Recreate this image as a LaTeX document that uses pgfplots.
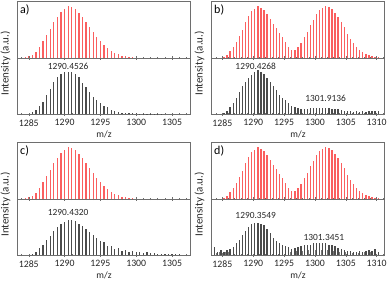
\documentclass[border=0pt]{standalone}
\usepackage{pgfplots}
\pgfplotsset{compat=1.18}
\usepackage{fontspec}
\setmainfont{Carlito}
\definecolor{simred}{RGB}{250,95,95}
\definecolor{expgray}{RGB}{75,75,75}
\definecolor{framec}{RGB}{110,110,110}

\pgfplotstableread{
x y
1284.5 0.012
1285.0 0.03
1285.5 0.06
1286.0 0.12
1286.5 0.21
1287.0 0.32
1287.5 0.44
1288.0 0.56
1288.5 0.69
1289.0 0.80
1289.5 0.89
1290.0 0.95
1290.5 1.00
1291.0 0.98
1291.5 0.94
1292.0 0.87
1292.5 0.79
1293.0 0.69
1293.5 0.60
1294.0 0.50
1294.5 0.41
1295.0 0.33
1295.5 0.26
1296.0 0.20
1296.5 0.14
1297.0 0.10
1297.5 0.068
1298.0 0.045
1298.5 0.03
1299.0 0.02
1299.5 0.013
1300.0 0.008
1300.5 0.005
1301.0 0.003
}\redA

\pgfplotstableread{
x y
1285.25 0.01
1285.75 0.06
1286.25 0.13
1286.75 0.21
1287.25 0.31
1287.75 0.42
1288.25 0.55
1288.75 0.69
1289.25 0.81
1289.75 0.90
1290.25 0.95
1290.75 1.00
1291.25 0.97
1291.75 0.92
1292.25 0.84
1292.75 0.76
1293.25 0.66
1293.75 0.58
1294.25 0.48
1294.75 0.40
1295.25 0.31
1295.75 0.22
1296.25 0.16
1296.75 0.15
1297.25 0.21
1297.75 0.29
1298.25 0.40
1298.75 0.51
1299.25 0.63
1299.75 0.74
1300.25 0.85
1300.75 0.92
1301.25 0.97
1301.75 1.00
1302.25 0.99
1302.75 0.95
1303.25 0.87
1303.75 0.79
1304.25 0.69
1304.75 0.59
1305.25 0.47
1305.75 0.37
1306.25 0.29
1306.75 0.22
1307.25 0.16
1307.75 0.11
1308.25 0.08
1308.75 0.06
1309.25 0.04
1309.75 0.02
1310.25 0.01
}\redB

\pgfplotstableread{
x y
1285.5 0.038
1286.0 0.076
1286.5 0.144
1287.0 0.220
1287.5 0.342
1288.0 0.456
1288.5 0.578
1289.0 0.669
1289.5 0.714
1290.0 0.752
1290.5 0.760
1291.0 0.752
1291.5 0.714
1292.0 0.654
1292.5 0.562
1293.0 0.479
1293.5 0.403
1294.0 0.312
1294.5 0.251
1295.0 0.198
1295.5 0.144
1296.0 0.122
1296.5 0.076
1297.0 0.061
1297.5 0.038
1298.0 0.030
1298.5 0.023
1299.0 0.019
1299.5 0.015
1300.0 0.015
1300.5 0.011
1301.0 0.011
1301.5 0.008
1302.0 0.008
1302.5 0.008
1303.0 0.006
1303.5 0.006
}\blkA

\pgfplotstableread{
x y
1285.25 0.016
1285.75 0.062
1286.25 0.125
1286.75 0.203
1287.25 0.296
1287.75 0.398
1288.25 0.499
1288.75 0.577
1289.25 0.647
1289.75 0.694
1290.25 0.749
1290.75 0.780
1291.25 0.749
1291.75 0.710
1292.25 0.647
1292.75 0.577
1293.25 0.499
1293.75 0.429
1294.25 0.351
1294.75 0.296
1295.25 0.250
1295.75 0.195
1296.25 0.148
1296.75 0.125
1297.25 0.105
1297.75 0.100
1298.25 0.094
1298.75 0.100
1299.25 0.105
1299.75 0.109
1300.25 0.109
1300.75 0.112
1301.25 0.112
1301.75 0.109
1302.25 0.105
1302.75 0.094
1303.25 0.094
1303.75 0.086
1304.25 0.078
1304.75 0.062
1305.25 0.059
1305.75 0.055
1306.25 0.047
1306.75 0.055
1307.25 0.047
1307.75 0.055
1308.25 0.047
1308.75 0.059
1309.25 0.059
1309.75 0.062
1310.25 0.062
}\blkB

\pgfplotstableread{
x y
1285.5 0.03
1286.0 0.06
1286.5 0.13
1287.0 0.19
1287.5 0.28
1288.0 0.35
1288.5 0.44
1289.0 0.50
1289.5 0.56
1290.0 0.59
1290.5 0.62
1291.0 0.62
1291.5 0.61
1292.0 0.56
1292.5 0.52
1293.0 0.46
1293.5 0.42
1294.0 0.36
1294.5 0.31
1295.0 0.26
1295.5 0.23
1296.0 0.17
1296.5 0.16
1297.0 0.12
1297.5 0.13
1298.0 0.08
1298.5 0.10
1299.0 0.06
1299.5 0.08
1300.0 0.05
1300.5 0.065
1301.0 0.04
1301.5 0.05
1302.0 0.035
1302.5 0.04
1303.0 0.03
1303.5 0.03
1304.0 0.025
1304.5 0.02
1305.0 0.02
1305.5 0.015
1306.0 0.015
}\blkC

\pgfplotstableread{
x y
1283.75 0.15
1284.25 0.05
1284.75 0.09
1285.25 0.05
1285.75 0.09
1286.25 0.11
1286.75 0.15
1287.25 0.22
1287.75 0.28
1288.25 0.36
1288.75 0.44
1289.25 0.50
1289.75 0.55
1290.25 0.58
1290.75 0.58
1291.25 0.56
1291.75 0.54
1292.25 0.46
1292.75 0.40
1293.25 0.31
1293.75 0.26
1294.25 0.22
1294.75 0.18
1295.25 0.16
1295.75 0.15
1296.25 0.12
1296.75 0.13
1297.25 0.15
1297.75 0.16
1298.25 0.18
1298.75 0.18
1299.25 0.19
1299.75 0.21
1300.25 0.22
1300.75 0.22
1301.25 0.22
1301.75 0.21
1302.25 0.19
1302.75 0.18
1303.25 0.16
1303.75 0.13
1304.25 0.12
1304.75 0.10
1305.25 0.08
1305.75 0.08
1306.25 0.06
1306.75 0.06
1307.25 0.08
1307.75 0.06
1308.25 0.08
1308.75 0.09
1309.25 0.08
1309.75 0.11
1310.25 0.06
}\blkD

\pgfplotstableread{
x y
1284.0 0.04
1284.5 0.06
1285.0 0.04
1285.5 0.05
1286.0 0.06
1296.0 0.05
1297.0 0.07
1298.0 0.08
1299.0 0.09
1300.0 0.10
1301.0 0.10
1302.0 0.09
1303.0 0.08
1304.0 0.06
1305.0 0.05
1306.0 0.04
1307.0 0.04
1308.0 0.05
1309.0 0.05
}\blkDminor

\pgfplotsset{
  base/.style={scale only axis, width=173.4pt, ymin=0, ytick=\empty,
    axis line style={framec, line width=0.7pt},
    xtick={1285,1290,...,1310}, minor xtick={1283,...,1311},
    tick style={framec, line width=0.5pt}, major tick length=3.2pt, minor tick length=2pt,
    tick align=center, xtick pos=lower,
    ticklabel style={font=\fontsize{9.8}{11}\selectfont, text=black!85},
    /pgf/number format/assume math mode=true, /pgf/number format/1000 sep={}},
  topax/.style={base, height=57pt, ymax=1.1, xticklabels={},
    ylabel={Intensity (a.u.)},
    ylabel style={at={(rel axis cs:-0.068,-0.096)}, anchor=center, font=\fontsize{11}{12}\selectfont, text=black!85}},
  botax/.style={base, height=56.3pt, ymax=1, xlabel={m/z},
    xlabel style={font=\fontsize{9.6}{11}\selectfont, text=black!85, yshift=2.5pt}},
  rng1/.style={xmin=1283.4, xmax=1307.6},
  rng2/.style={xmin=1283.2, xmax=1311.3},
  redbar/.style={simred, ycomb, line width=1.3pt, no marks},
  blkbar/.style={expgray, ycomb, line width=1.3pt, no marks},
}
\tikzset{
  lblsty/.style={font=\fontsize{9.4}{11}\selectfont, text=black!85},
  panel/.style={anchor=north west, inner sep=1pt, font=\fontsize{12}{13}\selectfont}
}

\begin{document}
\begin{tikzpicture}
\useasboundingbox (0,0) rectangle (388pt,282pt);
% panel a
\begin{axis}[topax, rng1, at={(17.3pt,224pt)}, anchor=south west]
\addplot[redbar] table[x=x,y=y] {\redA};
\node[panel] at (rel axis cs:0.01,0.96) {a)};
\end{axis}
\begin{axis}[botax, rng1, at={(17.3pt,167.7pt)}, anchor=south west]
\addplot[blkbar] table[x=x,y=y] {\blkA};
\node[lblsty] at (axis cs:1290.5,0.845) {1290.4526};
\end{axis}
% panel b
\begin{axis}[topax, rng2, at={(211.3pt,224pt)}, anchor=south west]
\addplot[redbar] table[x=x,y=y] {\redB};
\node[panel] at (rel axis cs:0.01,0.96) {b)};
\end{axis}
\begin{axis}[botax, rng2, at={(211.3pt,167.7pt)}, anchor=south west]
\addplot[blkbar] table[x=x,y=y] {\blkB};
\node[lblsty] at (axis cs:1290.4,0.86) {1290.4268};
\node[lblsty] at (axis cs:1301.73,0.28) {1301.9136};
\end{axis}
% panel c
\begin{axis}[topax, rng1, at={(17.3pt,83pt)}, anchor=south west]
\addplot[redbar] table[x=x,y=y] {\redA};
\node[panel] at (rel axis cs:0.01,0.96) {c)};
\end{axis}
\begin{axis}[botax, rng1, at={(17.3pt,26.7pt)}, anchor=south west]
\addplot[blkbar] table[x=x,y=y] {\blkC};
\node[lblsty] at (axis cs:1290.5,0.757) {1290.4320};
\end{axis}
% panel d
\begin{axis}[topax, rng2, at={(211.3pt,83pt)}, anchor=south west]
\addplot[redbar] table[x=x,y=y] {\redB};
\node[panel] at (rel axis cs:0.01,0.96) {d)};
\end{axis}
\begin{axis}[botax, rng2, at={(211.3pt,26.7pt)}, anchor=south west]
\addplot[blkbar, line width=0.9pt, expgray!75] table[x=x,y=y] {\blkDminor};
\addplot[blkbar] table[x=x,y=y] {\blkD};
\node[lblsty] at (axis cs:1290.4,0.70) {1290.3549};
\node[lblsty] at (axis cs:1301.45,0.31) {1301.3451};
\end{axis}
\end{tikzpicture}
\end{document}
